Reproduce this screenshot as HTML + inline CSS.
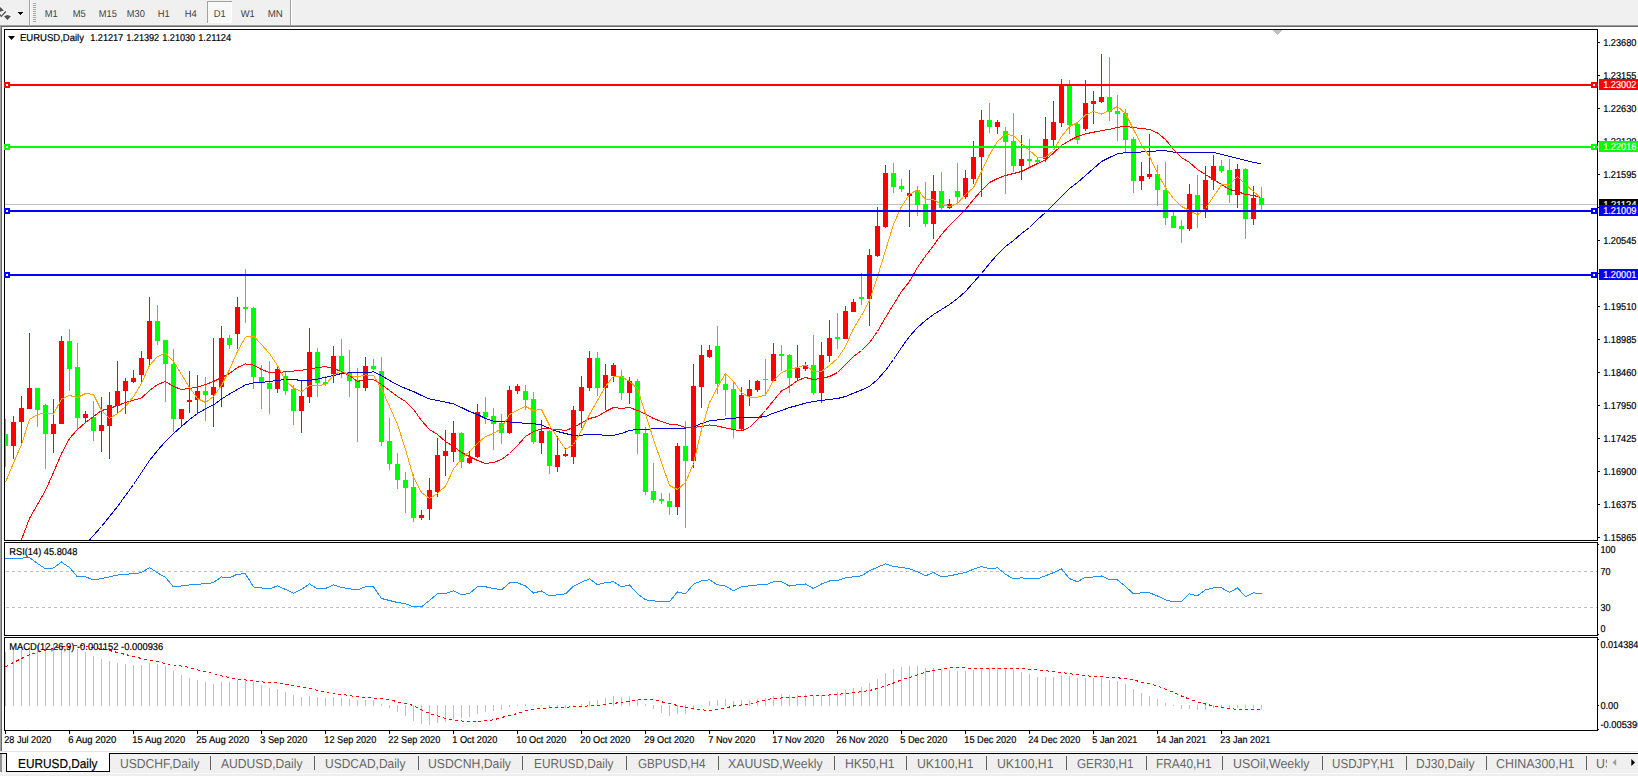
<!DOCTYPE html>
<html><head><meta charset="utf-8"><title>EURUSD,Daily</title>
<style>html,body{margin:0;padding:0;background:#f0f0f0;overflow:hidden}svg{display:block}text{font-family:"Liberation Sans",sans-serif;white-space:pre;text-rendering:geometricPrecision}</style></head><body>
<svg width="1638" height="776" viewBox="0 0 1638 776" shape-rendering="crispEdges">
<rect x="0" y="0" width="1638" height="776" fill="#f0f0f0"/>
<g id="toolbar">
<path d="M-3 9.5 L0.5 7.2 L3.8 10.4 L0 11.8 Z M4 16.3 L7.4 15.1 L10.9 16.3 L7.4 20 Z" fill="#505050" shape-rendering="auto"/>
<path d="M-0.3 14.3 L1.3 16.4 L5.8 11.5" stroke="#505050" stroke-width="1.2" fill="none" shape-rendering="auto"/>
<rect x="18" y="12" width="5" height="1" fill="#000"/>
<rect x="19" y="13" width="3" height="1" fill="#000"/>
<rect x="20" y="14" width="1" height="1" fill="#000"/>
<rect x="29" y="0" width="1" height="25" fill="#a0a0a0"/>
<rect x="30" y="0" width="1" height="25" fill="#ffffff"/>
<rect x="33" y="3" width="3" height="1" fill="#a8a8a8"/>
<rect x="33" y="5" width="3" height="1" fill="#a8a8a8"/>
<rect x="33" y="7" width="3" height="1" fill="#a8a8a8"/>
<rect x="33" y="9" width="3" height="1" fill="#a8a8a8"/>
<rect x="33" y="11" width="3" height="1" fill="#a8a8a8"/>
<rect x="33" y="13" width="3" height="1" fill="#a8a8a8"/>
<rect x="33" y="15" width="3" height="1" fill="#a8a8a8"/>
<rect x="33" y="17" width="3" height="1" fill="#a8a8a8"/>
<rect x="33" y="19" width="3" height="1" fill="#a8a8a8"/>
<rect x="33" y="21" width="3" height="1" fill="#a8a8a8"/>
<rect x="207" y="1" width="25" height="22" fill="#f8f8f8"/>
<rect x="207" y="1" width="25" height="1" fill="#a0a0a0"/>
<rect x="207" y="1" width="1" height="22" fill="#a0a0a0"/>
<rect x="231" y="2" width="1" height="21" fill="#ffffff"/>
<rect x="208" y="22" width="24" height="1" fill="#ffffff"/>
<rect x="290" y="0" width="1" height="25" fill="#a0a0a0"/>
<rect x="291" y="0" width="1" height="25" fill="#ffffff"/>
<text x="44.8" y="17" font-size="10.0" fill="#404040" stroke="#404040" stroke-width="0" textLength="13" lengthAdjust="spacingAndGlyphs">M1</text>
<text x="72.8" y="17" font-size="10.0" fill="#404040" stroke="#404040" stroke-width="0" textLength="13" lengthAdjust="spacingAndGlyphs">M5</text>
<text x="98.8" y="17" font-size="10.0" fill="#404040" stroke="#404040" stroke-width="0" textLength="18" lengthAdjust="spacingAndGlyphs">M15</text>
<text x="126.8" y="17" font-size="10.0" fill="#404040" stroke="#404040" stroke-width="0" textLength="18" lengthAdjust="spacingAndGlyphs">M30</text>
<text x="157.8" y="17" font-size="10.0" fill="#404040" stroke="#404040" stroke-width="0" textLength="12" lengthAdjust="spacingAndGlyphs">H1</text>
<text x="184.8" y="17" font-size="10.0" fill="#404040" stroke="#404040" stroke-width="0" textLength="12" lengthAdjust="spacingAndGlyphs">H4</text>
<text x="213.8" y="17" font-size="10.0" fill="#404040" stroke="#404040" stroke-width="0" textLength="12" lengthAdjust="spacingAndGlyphs">D1</text>
<text x="240.8" y="17" font-size="10.0" fill="#404040" stroke="#404040" stroke-width="0" textLength="14" lengthAdjust="spacingAndGlyphs">W1</text>
<text x="267.8" y="17" font-size="10.0" fill="#404040" stroke="#404040" stroke-width="0" textLength="15" lengthAdjust="spacingAndGlyphs">MN</text>
</g>
<rect x="0" y="25" width="1638" height="1" fill="#a0a0a0"/>
<rect x="0" y="26" width="1638" height="1" fill="#696969"/>
<rect x="0" y="27" width="1638" height="724" fill="#ffffff"/>
<rect x="0" y="25" width="1" height="727" fill="#a0a0a0"/>
<rect x="1" y="26" width="1" height="726" fill="#696969"/>
<rect x="0" y="751" width="1638" height="1" fill="#e3e3e3"/>
<rect x="4" y="29" width="1594" height="1" fill="#000"/>
<rect x="4" y="29" width="1" height="702" fill="#000"/>
<rect x="1597" y="29" width="1" height="702" fill="#000"/>
<rect x="4" y="540" width="1594" height="1" fill="#000"/>
<rect x="4" y="542" width="1594" height="1" fill="#000"/>
<rect x="4" y="635" width="1594" height="1" fill="#000"/>
<rect x="4" y="637" width="1594" height="1" fill="#000"/>
<rect x="4" y="730" width="1594" height="1" fill="#000"/>
<rect x="4" y="541" width="1594" height="1" fill="#fff"/>
<rect x="4" y="636" width="1594" height="1" fill="#fff"/>
<defs><clipPath id="cm"><rect x="5" y="30" width="1592" height="510"/></clipPath><clipPath id="cr"><rect x="5" y="543" width="1592" height="92"/></clipPath><clipPath id="cd"><rect x="5" y="638" width="1592" height="92"/></clipPath></defs>
<g clip-path="url(#cm)">
<rect x="5" y="204" width="1592" height="1" fill="#c0c0c0"/>
<rect x="5" y="419" width="1" height="48" fill="#00ff00"/>
<rect x="3" y="434" width="5" height="12" fill="#00ff00"/>
<rect x="13" y="416" width="1" height="43" fill="#ff0000"/>
<rect x="11" y="422" width="5" height="24" fill="#ff0000"/>
<rect x="21" y="396" width="1" height="50" fill="#ff0000"/>
<rect x="19" y="408" width="5" height="14" fill="#ff0000"/>
<rect x="29" y="333" width="1" height="76" fill="#ff0000"/>
<rect x="27" y="388" width="5" height="21" fill="#ff0000"/>
<rect x="37" y="388" width="1" height="39" fill="#00ff00"/>
<rect x="35" y="388" width="5" height="22" fill="#00ff00"/>
<rect x="45" y="404" width="1" height="65" fill="#00ff00"/>
<rect x="43" y="405" width="5" height="29" fill="#00ff00"/>
<rect x="53" y="399" width="1" height="54" fill="#ff0000"/>
<rect x="51" y="424" width="5" height="10" fill="#ff0000"/>
<rect x="61" y="336" width="1" height="88" fill="#ff0000"/>
<rect x="59" y="341" width="5" height="83" fill="#ff0000"/>
<rect x="69" y="329" width="1" height="62" fill="#00ff00"/>
<rect x="67" y="341" width="5" height="28" fill="#00ff00"/>
<rect x="77" y="343" width="1" height="87" fill="#00ff00"/>
<rect x="75" y="367" width="5" height="51" fill="#00ff00"/>
<rect x="85" y="411" width="1" height="12" fill="#ff0000"/>
<rect x="83" y="414" width="5" height="4" fill="#ff0000"/>
<rect x="93" y="401" width="1" height="40" fill="#00ff00"/>
<rect x="91" y="417" width="5" height="14" fill="#00ff00"/>
<rect x="101" y="397" width="1" height="55" fill="#ff0000"/>
<rect x="99" y="425" width="5" height="6" fill="#ff0000"/>
<rect x="109" y="392" width="1" height="67" fill="#ff0000"/>
<rect x="107" y="405" width="5" height="21" fill="#ff0000"/>
<rect x="117" y="361" width="1" height="52" fill="#ff0000"/>
<rect x="115" y="391" width="5" height="15" fill="#ff0000"/>
<rect x="125" y="378" width="1" height="36" fill="#ff0000"/>
<rect x="123" y="381" width="5" height="10" fill="#ff0000"/>
<rect x="133" y="370" width="1" height="13" fill="#ff0000"/>
<rect x="131" y="378" width="5" height="4" fill="#ff0000"/>
<rect x="141" y="351" width="1" height="31" fill="#ff0000"/>
<rect x="139" y="358" width="5" height="17" fill="#ff0000"/>
<rect x="149" y="297" width="1" height="69" fill="#ff0000"/>
<rect x="147" y="321" width="5" height="38" fill="#ff0000"/>
<rect x="157" y="305" width="1" height="40" fill="#00ff00"/>
<rect x="155" y="321" width="5" height="20" fill="#00ff00"/>
<rect x="165" y="340" width="1" height="62" fill="#00ff00"/>
<rect x="163" y="340" width="5" height="24" fill="#00ff00"/>
<rect x="173" y="349" width="1" height="83" fill="#00ff00"/>
<rect x="171" y="364" width="5" height="55" fill="#00ff00"/>
<rect x="181" y="409" width="1" height="18" fill="#ff0000"/>
<rect x="179" y="409" width="5" height="10" fill="#ff0000"/>
<rect x="189" y="371" width="1" height="42" fill="#ff0000"/>
<rect x="187" y="400" width="5" height="2" fill="#ff0000"/>
<rect x="197" y="375" width="1" height="38" fill="#ff0000"/>
<rect x="195" y="391" width="5" height="9" fill="#ff0000"/>
<rect x="205" y="377" width="1" height="44" fill="#00ff00"/>
<rect x="203" y="391" width="5" height="4" fill="#00ff00"/>
<rect x="213" y="338" width="1" height="89" fill="#ff0000"/>
<rect x="211" y="387" width="5" height="8" fill="#ff0000"/>
<rect x="221" y="326" width="1" height="81" fill="#ff0000"/>
<rect x="219" y="338" width="5" height="49" fill="#ff0000"/>
<rect x="229" y="335" width="1" height="14" fill="#00ff00"/>
<rect x="227" y="338" width="5" height="7" fill="#00ff00"/>
<rect x="237" y="297" width="1" height="52" fill="#ff0000"/>
<rect x="235" y="307" width="5" height="27" fill="#ff0000"/>
<rect x="245" y="269" width="1" height="54" fill="#00ff00"/>
<rect x="243" y="307" width="5" height="2" fill="#00ff00"/>
<rect x="253" y="307" width="1" height="82" fill="#00ff00"/>
<rect x="251" y="308" width="5" height="69" fill="#00ff00"/>
<rect x="261" y="365" width="1" height="44" fill="#00ff00"/>
<rect x="259" y="377" width="5" height="6" fill="#00ff00"/>
<rect x="269" y="361" width="1" height="53" fill="#00ff00"/>
<rect x="267" y="383" width="5" height="6" fill="#00ff00"/>
<rect x="277" y="366" width="1" height="27" fill="#ff0000"/>
<rect x="275" y="369" width="5" height="20" fill="#ff0000"/>
<rect x="285" y="372" width="1" height="23" fill="#00ff00"/>
<rect x="283" y="376" width="5" height="15" fill="#00ff00"/>
<rect x="293" y="385" width="1" height="40" fill="#00ff00"/>
<rect x="291" y="389" width="5" height="22" fill="#00ff00"/>
<rect x="301" y="381" width="1" height="52" fill="#ff0000"/>
<rect x="299" y="396" width="5" height="15" fill="#ff0000"/>
<rect x="309" y="328" width="1" height="75" fill="#ff0000"/>
<rect x="307" y="352" width="5" height="45" fill="#ff0000"/>
<rect x="317" y="348" width="1" height="49" fill="#00ff00"/>
<rect x="315" y="352" width="5" height="31" fill="#00ff00"/>
<rect x="325" y="376" width="1" height="10" fill="#00ff00"/>
<rect x="323" y="382" width="5" height="2" fill="#00ff00"/>
<rect x="333" y="346" width="1" height="37" fill="#ff0000"/>
<rect x="331" y="356" width="5" height="18" fill="#ff0000"/>
<rect x="341" y="339" width="1" height="39" fill="#00ff00"/>
<rect x="339" y="356" width="5" height="15" fill="#00ff00"/>
<rect x="349" y="350" width="1" height="47" fill="#00ff00"/>
<rect x="347" y="372" width="5" height="9" fill="#00ff00"/>
<rect x="357" y="368" width="1" height="74" fill="#00ff00"/>
<rect x="355" y="380" width="5" height="8" fill="#00ff00"/>
<rect x="365" y="357" width="1" height="34" fill="#ff0000"/>
<rect x="363" y="366" width="5" height="22" fill="#ff0000"/>
<rect x="373" y="359" width="1" height="11" fill="#00ff00"/>
<rect x="371" y="366" width="5" height="3" fill="#00ff00"/>
<rect x="381" y="357" width="1" height="89" fill="#00ff00"/>
<rect x="379" y="371" width="5" height="71" fill="#00ff00"/>
<rect x="389" y="418" width="1" height="52" fill="#00ff00"/>
<rect x="387" y="441" width="5" height="23" fill="#00ff00"/>
<rect x="397" y="453" width="1" height="36" fill="#00ff00"/>
<rect x="395" y="464" width="5" height="16" fill="#00ff00"/>
<rect x="405" y="472" width="1" height="41" fill="#00ff00"/>
<rect x="403" y="480" width="5" height="8" fill="#00ff00"/>
<rect x="413" y="474" width="1" height="48" fill="#00ff00"/>
<rect x="411" y="487" width="5" height="31" fill="#00ff00"/>
<rect x="421" y="510" width="1" height="10" fill="#ff0000"/>
<rect x="419" y="515" width="5" height="3" fill="#ff0000"/>
<rect x="429" y="478" width="1" height="42" fill="#ff0000"/>
<rect x="427" y="490" width="5" height="19" fill="#ff0000"/>
<rect x="437" y="438" width="1" height="59" fill="#ff0000"/>
<rect x="435" y="455" width="5" height="37" fill="#ff0000"/>
<rect x="445" y="430" width="1" height="46" fill="#ff0000"/>
<rect x="443" y="451" width="5" height="5" fill="#ff0000"/>
<rect x="453" y="421" width="1" height="41" fill="#ff0000"/>
<rect x="451" y="433" width="5" height="19" fill="#ff0000"/>
<rect x="461" y="432" width="1" height="36" fill="#00ff00"/>
<rect x="459" y="433" width="5" height="29" fill="#00ff00"/>
<rect x="469" y="451" width="1" height="13" fill="#ff0000"/>
<rect x="467" y="458" width="5" height="5" fill="#ff0000"/>
<rect x="477" y="404" width="1" height="54" fill="#ff0000"/>
<rect x="475" y="412" width="5" height="45" fill="#ff0000"/>
<rect x="485" y="397" width="1" height="27" fill="#00ff00"/>
<rect x="483" y="412" width="5" height="5" fill="#00ff00"/>
<rect x="493" y="408" width="1" height="42" fill="#00ff00"/>
<rect x="491" y="416" width="5" height="8" fill="#00ff00"/>
<rect x="501" y="414" width="1" height="30" fill="#00ff00"/>
<rect x="499" y="423" width="5" height="10" fill="#00ff00"/>
<rect x="509" y="386" width="1" height="48" fill="#ff0000"/>
<rect x="507" y="390" width="5" height="43" fill="#ff0000"/>
<rect x="517" y="384" width="1" height="10" fill="#ff0000"/>
<rect x="515" y="386" width="5" height="5" fill="#ff0000"/>
<rect x="525" y="385" width="1" height="25" fill="#00ff00"/>
<rect x="523" y="391" width="5" height="9" fill="#00ff00"/>
<rect x="533" y="392" width="1" height="52" fill="#00ff00"/>
<rect x="531" y="399" width="5" height="43" fill="#00ff00"/>
<rect x="541" y="420" width="1" height="34" fill="#ff0000"/>
<rect x="539" y="431" width="5" height="12" fill="#ff0000"/>
<rect x="549" y="430" width="1" height="44" fill="#00ff00"/>
<rect x="547" y="431" width="5" height="35" fill="#00ff00"/>
<rect x="557" y="436" width="1" height="36" fill="#ff0000"/>
<rect x="555" y="455" width="5" height="12" fill="#ff0000"/>
<rect x="565" y="448" width="1" height="9" fill="#ff0000"/>
<rect x="563" y="454" width="5" height="2" fill="#ff0000"/>
<rect x="573" y="406" width="1" height="58" fill="#ff0000"/>
<rect x="571" y="410" width="5" height="47" fill="#ff0000"/>
<rect x="581" y="376" width="1" height="52" fill="#ff0000"/>
<rect x="579" y="387" width="5" height="24" fill="#ff0000"/>
<rect x="589" y="351" width="1" height="40" fill="#ff0000"/>
<rect x="587" y="358" width="5" height="30" fill="#ff0000"/>
<rect x="597" y="352" width="1" height="44" fill="#00ff00"/>
<rect x="595" y="358" width="5" height="30" fill="#00ff00"/>
<rect x="605" y="364" width="1" height="46" fill="#ff0000"/>
<rect x="603" y="375" width="5" height="13" fill="#ff0000"/>
<rect x="613" y="363" width="1" height="19" fill="#ff0000"/>
<rect x="611" y="365" width="5" height="11" fill="#ff0000"/>
<rect x="621" y="370" width="1" height="30" fill="#00ff00"/>
<rect x="619" y="376" width="5" height="17" fill="#00ff00"/>
<rect x="629" y="377" width="1" height="27" fill="#ff0000"/>
<rect x="627" y="381" width="5" height="12" fill="#ff0000"/>
<rect x="637" y="379" width="1" height="75" fill="#00ff00"/>
<rect x="635" y="381" width="5" height="53" fill="#00ff00"/>
<rect x="645" y="427" width="1" height="68" fill="#00ff00"/>
<rect x="643" y="433" width="5" height="59" fill="#00ff00"/>
<rect x="653" y="463" width="1" height="40" fill="#00ff00"/>
<rect x="651" y="491" width="5" height="9" fill="#00ff00"/>
<rect x="661" y="493" width="1" height="11" fill="#00ff00"/>
<rect x="659" y="499" width="5" height="2" fill="#00ff00"/>
<rect x="669" y="493" width="1" height="22" fill="#00ff00"/>
<rect x="667" y="501" width="5" height="6" fill="#00ff00"/>
<rect x="677" y="443" width="1" height="72" fill="#ff0000"/>
<rect x="675" y="446" width="5" height="61" fill="#ff0000"/>
<rect x="685" y="421" width="1" height="107" fill="#00ff00"/>
<rect x="683" y="446" width="5" height="15" fill="#00ff00"/>
<rect x="693" y="364" width="1" height="104" fill="#ff0000"/>
<rect x="691" y="386" width="5" height="75" fill="#ff0000"/>
<rect x="701" y="345" width="1" height="63" fill="#ff0000"/>
<rect x="699" y="355" width="5" height="32" fill="#ff0000"/>
<rect x="709" y="345" width="1" height="13" fill="#ff0000"/>
<rect x="707" y="350" width="5" height="7" fill="#ff0000"/>
<rect x="717" y="326" width="1" height="68" fill="#00ff00"/>
<rect x="715" y="346" width="5" height="38" fill="#00ff00"/>
<rect x="725" y="374" width="1" height="42" fill="#00ff00"/>
<rect x="723" y="384" width="5" height="6" fill="#00ff00"/>
<rect x="733" y="381" width="1" height="57" fill="#00ff00"/>
<rect x="731" y="389" width="5" height="40" fill="#00ff00"/>
<rect x="741" y="387" width="1" height="44" fill="#ff0000"/>
<rect x="739" y="395" width="5" height="34" fill="#ff0000"/>
<rect x="749" y="380" width="1" height="26" fill="#ff0000"/>
<rect x="747" y="389" width="5" height="7" fill="#ff0000"/>
<rect x="757" y="380" width="1" height="12" fill="#ff0000"/>
<rect x="755" y="381" width="5" height="9" fill="#ff0000"/>
<rect x="765" y="359" width="1" height="35" fill="#00ff00"/>
<rect x="763" y="379" width="5" height="1" fill="#00ff00"/>
<rect x="773" y="343" width="1" height="38" fill="#ff0000"/>
<rect x="771" y="354" width="5" height="27" fill="#ff0000"/>
<rect x="781" y="345" width="1" height="26" fill="#00ff00"/>
<rect x="779" y="354" width="5" height="2" fill="#00ff00"/>
<rect x="789" y="354" width="1" height="39" fill="#00ff00"/>
<rect x="787" y="355" width="5" height="23" fill="#00ff00"/>
<rect x="797" y="345" width="1" height="35" fill="#ff0000"/>
<rect x="795" y="368" width="5" height="10" fill="#ff0000"/>
<rect x="805" y="362" width="1" height="9" fill="#ff0000"/>
<rect x="803" y="365" width="5" height="4" fill="#ff0000"/>
<rect x="813" y="335" width="1" height="60" fill="#00ff00"/>
<rect x="811" y="365" width="5" height="28" fill="#00ff00"/>
<rect x="821" y="342" width="1" height="61" fill="#ff0000"/>
<rect x="819" y="355" width="5" height="38" fill="#ff0000"/>
<rect x="829" y="320" width="1" height="42" fill="#ff0000"/>
<rect x="827" y="338" width="5" height="18" fill="#ff0000"/>
<rect x="837" y="313" width="1" height="36" fill="#00ff00"/>
<rect x="835" y="337" width="5" height="2" fill="#00ff00"/>
<rect x="845" y="306" width="1" height="33" fill="#ff0000"/>
<rect x="843" y="311" width="5" height="28" fill="#ff0000"/>
<rect x="853" y="299" width="1" height="13" fill="#ff0000"/>
<rect x="851" y="302" width="5" height="10" fill="#ff0000"/>
<rect x="861" y="273" width="1" height="32" fill="#00ff00"/>
<rect x="859" y="297" width="5" height="2" fill="#00ff00"/>
<rect x="869" y="249" width="1" height="77" fill="#ff0000"/>
<rect x="867" y="255" width="5" height="44" fill="#ff0000"/>
<rect x="877" y="207" width="1" height="50" fill="#ff0000"/>
<rect x="875" y="226" width="5" height="30" fill="#ff0000"/>
<rect x="885" y="165" width="1" height="63" fill="#ff0000"/>
<rect x="883" y="173" width="5" height="54" fill="#ff0000"/>
<rect x="893" y="163" width="1" height="30" fill="#00ff00"/>
<rect x="891" y="173" width="5" height="14" fill="#00ff00"/>
<rect x="901" y="179" width="1" height="13" fill="#00ff00"/>
<rect x="899" y="186" width="5" height="3" fill="#00ff00"/>
<rect x="909" y="170" width="1" height="57" fill="#ff0000"/>
<rect x="907" y="193" width="5" height="3" fill="#ff0000"/>
<rect x="917" y="186" width="1" height="30" fill="#00ff00"/>
<rect x="915" y="190" width="5" height="15" fill="#00ff00"/>
<rect x="925" y="182" width="1" height="45" fill="#00ff00"/>
<rect x="923" y="204" width="5" height="20" fill="#00ff00"/>
<rect x="933" y="175" width="1" height="64" fill="#ff0000"/>
<rect x="931" y="191" width="5" height="33" fill="#ff0000"/>
<rect x="941" y="172" width="1" height="38" fill="#00ff00"/>
<rect x="939" y="191" width="5" height="17" fill="#00ff00"/>
<rect x="949" y="199" width="1" height="10" fill="#ff0000"/>
<rect x="947" y="204" width="5" height="4" fill="#ff0000"/>
<rect x="957" y="163" width="1" height="40" fill="#00ff00"/>
<rect x="955" y="191" width="5" height="6" fill="#00ff00"/>
<rect x="965" y="170" width="1" height="29" fill="#ff0000"/>
<rect x="963" y="178" width="5" height="19" fill="#ff0000"/>
<rect x="973" y="141" width="1" height="43" fill="#ff0000"/>
<rect x="971" y="157" width="5" height="22" fill="#ff0000"/>
<rect x="981" y="110" width="1" height="87" fill="#ff0000"/>
<rect x="979" y="120" width="5" height="37" fill="#ff0000"/>
<rect x="989" y="103" width="1" height="30" fill="#00ff00"/>
<rect x="987" y="120" width="5" height="7" fill="#00ff00"/>
<rect x="997" y="120" width="1" height="14" fill="#ff0000"/>
<rect x="995" y="122" width="5" height="5" fill="#ff0000"/>
<rect x="1005" y="127" width="1" height="67" fill="#00ff00"/>
<rect x="1003" y="131" width="5" height="11" fill="#00ff00"/>
<rect x="1013" y="113" width="1" height="59" fill="#00ff00"/>
<rect x="1011" y="141" width="5" height="25" fill="#00ff00"/>
<rect x="1021" y="135" width="1" height="45" fill="#ff0000"/>
<rect x="1019" y="159" width="5" height="7" fill="#ff0000"/>
<rect x="1029" y="139" width="1" height="28" fill="#00ff00"/>
<rect x="1027" y="159" width="5" height="2" fill="#00ff00"/>
<rect x="1037" y="157" width="1" height="7" fill="#00ff00"/>
<rect x="1035" y="160" width="5" height="2" fill="#00ff00"/>
<rect x="1045" y="117" width="1" height="45" fill="#ff0000"/>
<rect x="1043" y="139" width="5" height="20" fill="#ff0000"/>
<rect x="1053" y="101" width="1" height="45" fill="#ff0000"/>
<rect x="1051" y="122" width="5" height="18" fill="#ff0000"/>
<rect x="1061" y="79" width="1" height="48" fill="#ff0000"/>
<rect x="1059" y="85" width="5" height="38" fill="#ff0000"/>
<rect x="1069" y="80" width="1" height="54" fill="#00ff00"/>
<rect x="1067" y="86" width="5" height="39" fill="#00ff00"/>
<rect x="1077" y="123" width="1" height="21" fill="#00ff00"/>
<rect x="1075" y="124" width="5" height="16" fill="#00ff00"/>
<rect x="1085" y="80" width="1" height="51" fill="#ff0000"/>
<rect x="1083" y="103" width="5" height="26" fill="#ff0000"/>
<rect x="1093" y="91" width="1" height="33" fill="#ff0000"/>
<rect x="1091" y="101" width="5" height="3" fill="#ff0000"/>
<rect x="1101" y="54" width="1" height="49" fill="#ff0000"/>
<rect x="1099" y="97" width="5" height="5" fill="#ff0000"/>
<rect x="1109" y="57" width="1" height="64" fill="#00ff00"/>
<rect x="1107" y="97" width="5" height="15" fill="#00ff00"/>
<rect x="1117" y="95" width="1" height="46" fill="#00ff00"/>
<rect x="1115" y="111" width="5" height="3" fill="#00ff00"/>
<rect x="1125" y="109" width="1" height="44" fill="#00ff00"/>
<rect x="1123" y="113" width="5" height="27" fill="#00ff00"/>
<rect x="1133" y="137" width="1" height="56" fill="#00ff00"/>
<rect x="1131" y="139" width="5" height="42" fill="#00ff00"/>
<rect x="1141" y="162" width="1" height="28" fill="#ff0000"/>
<rect x="1139" y="176" width="5" height="5" fill="#ff0000"/>
<rect x="1149" y="134" width="1" height="45" fill="#ff0000"/>
<rect x="1147" y="174" width="5" height="3" fill="#ff0000"/>
<rect x="1157" y="165" width="1" height="41" fill="#00ff00"/>
<rect x="1155" y="174" width="5" height="16" fill="#00ff00"/>
<rect x="1165" y="162" width="1" height="63" fill="#00ff00"/>
<rect x="1163" y="190" width="5" height="28" fill="#00ff00"/>
<rect x="1173" y="212" width="1" height="16" fill="#00ff00"/>
<rect x="1171" y="216" width="5" height="12" fill="#00ff00"/>
<rect x="1181" y="220" width="1" height="23" fill="#00ff00"/>
<rect x="1179" y="226" width="5" height="3" fill="#00ff00"/>
<rect x="1189" y="184" width="1" height="47" fill="#ff0000"/>
<rect x="1187" y="194" width="5" height="35" fill="#ff0000"/>
<rect x="1197" y="175" width="1" height="53" fill="#00ff00"/>
<rect x="1195" y="195" width="5" height="16" fill="#00ff00"/>
<rect x="1205" y="166" width="1" height="52" fill="#ff0000"/>
<rect x="1203" y="180" width="5" height="31" fill="#ff0000"/>
<rect x="1213" y="155" width="1" height="35" fill="#ff0000"/>
<rect x="1211" y="166" width="5" height="14" fill="#ff0000"/>
<rect x="1221" y="160" width="1" height="13" fill="#00ff00"/>
<rect x="1219" y="166" width="5" height="5" fill="#00ff00"/>
<rect x="1229" y="159" width="1" height="44" fill="#00ff00"/>
<rect x="1227" y="170" width="5" height="25" fill="#00ff00"/>
<rect x="1237" y="164" width="1" height="44" fill="#ff0000"/>
<rect x="1235" y="169" width="5" height="26" fill="#ff0000"/>
<rect x="1245" y="168" width="1" height="71" fill="#00ff00"/>
<rect x="1243" y="169" width="5" height="50" fill="#00ff00"/>
<rect x="1253" y="186" width="1" height="39" fill="#ff0000"/>
<rect x="1251" y="198" width="5" height="21" fill="#ff0000"/>
<rect x="1261" y="187" width="1" height="23" fill="#00ff00"/>
<rect x="1259" y="198" width="5" height="7" fill="#00ff00"/>
<polyline points="77.5,556.5 85.5,544.5 93.5,535.5 101.5,526.5 109.5,516.5 117.5,506.5 125.5,495.5 133.5,484.5 141.5,472.5 149.5,460.5 157.5,450.5 165.5,441.5 173.5,433.5 181.5,426.5 189.5,419.5 197.5,413.5 205.5,408.9 213.5,404.9 221.5,399.0 229.5,394.0 237.5,389.5 245.5,384.9 253.5,382.9 261.5,382.5 269.5,381.5 277.5,380.5 285.5,379.5 293.5,379.1 301.5,380.9 309.5,380.5 317.5,379.1 325.5,377.3 333.5,375.5 341.5,373.5 349.5,372.9 357.5,372.9 365.5,372.5 373.5,371.9 381.5,375.5 389.5,380.5 397.5,384.9 405.5,388.5 413.5,391.5 421.5,395.5 429.5,398.9 437.5,400.5 445.5,402.1 453.5,403.9 461.5,407.5 469.5,411.5 477.5,414.5 485.5,418.5 493.5,421.1 501.5,421.9 509.5,421.9 517.5,422.9 525.5,423.1 533.5,423.7 541.5,424.9 549.5,428.5 557.5,431.5 565.5,433.5 573.5,435.5 581.5,435.1 589.5,434.5 597.5,434.5 605.5,435.5 613.5,435.3 621.5,433.5 629.5,430.5 637.5,429.5 645.5,429.3 653.5,428.9 661.5,428.7 669.5,428.7 677.5,428.5 685.5,428.1 693.5,427.1 701.5,423.5 709.5,420.9 717.5,419.9 725.5,418.9 733.5,418.3 741.5,417.5 749.5,417.5 757.5,417.5 765.5,416.5 773.5,413.1 781.5,410.5 789.5,407.5 797.5,405.5 805.5,403.1 813.5,401.5 821.5,400.5 829.5,399.5 837.5,398.5 845.5,396.5 853.5,393.2 861.5,390.0 869.5,386.3 877.5,379.5 885.5,370.5 893.5,359.5 901.5,347.5 909.5,336.5 917.5,327.5 925.5,320.5 933.5,314.5 941.5,309.5 949.5,304.5 957.5,298.5 965.5,291.5 973.5,282.5 981.5,273.5 989.5,263.5 997.5,254.5 1005.5,246.5 1013.5,240.5 1021.5,233.5 1029.5,227.5 1037.5,219.5 1045.5,212.5 1053.5,204.5 1061.5,196.5 1069.5,188.5 1077.5,182.5 1085.5,175.5 1093.5,168.5 1101.5,161.5 1109.5,157.5 1117.5,153.8 1125.5,152.7 1133.5,152.5 1141.5,152.0 1149.5,151.6 1157.5,150.9 1165.5,150.8 1173.5,152.1 1181.5,152.5 1189.5,152.5 1197.5,152.5 1205.5,152.5 1213.5,152.5 1221.5,154.3 1229.5,156.3 1237.5,158.3 1245.5,160.3 1253.5,162.3 1261.5,164.1" fill="none" stroke="#0000cd" stroke-width="1"/>
<polyline points="5.5,585.5 13.5,560.5 21.5,539.5 29.5,518.5 37.5,504.5 45.5,490.5 53.5,472.5 61.5,453.5 69.5,438.5 77.5,429.5 85.5,422.5 93.5,416.5 101.5,410.5 109.5,408.5 117.5,405.5 125.5,402.5 133.5,400.1 141.5,398.0 149.5,390.5 157.5,384.5 165.5,381.5 173.5,386.5 181.5,389.5 189.5,388.5 197.5,387.1 205.5,384.5 213.5,381.5 221.5,377.5 229.5,373.5 237.5,367.5 245.5,363.9 253.5,365.1 261.5,369.5 269.5,372.5 277.5,373.1 285.5,371.5 293.5,371.1 301.5,370.3 309.5,369.1 317.5,367.5 325.5,366.7 333.5,368.5 341.5,371.5 349.5,375.5 357.5,381.5 365.5,379.5 373.5,379.5 381.5,384.5 389.5,390.5 397.5,396.5 405.5,401.5 413.5,409.5 421.5,420.5 429.5,429.5 437.5,434.5 445.5,441.5 453.5,446.5 461.5,452.5 469.5,456.5 477.5,460.5 485.5,463.5 493.5,462.5 501.5,459.5 509.5,453.5 517.5,445.5 525.5,436.5 533.5,431.5 541.5,428.9 549.5,428.9 557.5,429.5 565.5,430.5 573.5,427.5 581.5,422.9 589.5,418.5 597.5,416.5 605.5,411.5 613.5,407.5 621.5,408.5 629.5,407.5 637.5,410.5 645.5,414.0 653.5,418.5 661.5,421.5 669.5,424.1 677.5,424.9 685.5,427.5 693.5,427.5 701.5,426.5 709.5,424.9 717.5,426.1 725.5,427.9 733.5,429.5 741.5,430.9 749.5,427.5 757.5,419.5 765.5,410.5 773.5,400.5 781.5,391.0 789.5,386.5 797.5,380.5 805.5,377.5 813.5,379.5 821.5,378.5 829.5,376.5 837.5,372.5 845.5,364.5 853.5,356.5 861.5,350.5 869.5,342.5 877.5,331.5 885.5,317.5 893.5,304.5 901.5,291.5 909.5,281.5 917.5,267.5 925.5,256.0 933.5,245.5 941.5,234.5 949.5,225.5 957.5,217.5 965.5,209.5 973.5,199.5 981.5,190.5 989.5,182.5 997.5,178.5 1005.5,175.5 1013.5,173.5 1021.5,171.5 1029.5,167.5 1037.5,163.5 1045.5,160.0 1053.5,153.0 1061.5,145.5 1069.5,140.5 1077.5,136.5 1085.5,133.8 1093.5,132.2 1101.5,130.7 1109.5,129.3 1117.5,127.5 1125.5,126.1 1133.5,127.8 1141.5,128.3 1149.5,129.5 1157.5,133.0 1165.5,139.5 1173.5,149.5 1181.5,157.5 1189.5,162.5 1197.5,169.5 1205.5,174.5 1213.5,179.5 1221.5,184.5 1229.5,189.5 1237.5,191.5 1245.5,194.5 1253.5,195.5 1261.5,197.5" fill="none" stroke="#ff0000" stroke-width="1"/>
<polyline points="5.5,482.1 13.5,463.0 21.5,444.5 29.5,419.5 37.5,414.5 45.5,412.9 53.5,414.1 61.5,399.0 69.5,395.5 77.5,397.5 85.5,393.5 93.5,394.5 101.5,410.5 109.5,418.5 117.5,413.5 125.5,406.5 133.5,396.5 141.5,383.5 149.5,365.5 157.5,356.5 165.5,353.1 173.5,361.5 181.5,374.5 189.5,387.5 197.5,398.5 205.5,402.5 213.5,396.5 221.5,385.5 229.5,369.5 237.5,351.5 245.5,337.1 253.5,335.9 261.5,344.5 269.5,353.5 277.5,365.5 285.5,380.5 293.5,387.9 301.5,391.9 309.5,385.5 317.5,385.5 325.5,384.7 333.5,375.5 341.5,370.5 349.5,375.5 357.5,376.9 365.5,374.9 373.5,375.5 381.5,388.5 389.5,406.5 397.5,424.5 405.5,449.5 413.5,477.5 421.5,492.5 429.5,498.5 437.5,493.5 445.5,486.0 453.5,469.0 461.5,458.5 469.5,451.5 477.5,443.5 485.5,436.5 493.5,433.5 501.5,428.5 509.5,414.5 517.5,410.1 525.5,406.5 533.5,410.5 541.5,409.5 549.5,425.5 557.5,437.5 565.5,449.5 573.5,444.5 581.5,430.5 589.5,414.5 597.5,400.5 605.5,386.5 613.5,376.1 621.5,376.5 629.5,381.5 637.5,388.5 645.5,414.0 653.5,439.5 661.5,462.5 669.5,485.5 677.5,489.5 685.5,482.5 693.5,463.5 701.5,429.5 709.5,402.5 717.5,387.5 725.5,373.5 733.5,381.5 741.5,392.5 749.5,397.5 757.5,397.1 765.5,395.1 773.5,380.5 781.5,372.5 789.5,369.5 797.5,367.5 805.5,364.9 813.5,371.5 821.5,371.5 829.5,365.5 837.5,358.5 845.5,346.5 853.5,328.5 861.5,315.5 869.5,300.5 877.5,276.5 885.5,250.5 893.5,224.5 901.5,206.5 909.5,194.5 917.5,189.5 925.5,199.5 933.5,199.5 941.5,204.5 949.5,206.5 957.5,203.5 965.5,194.5 973.5,187.5 981.5,171.5 989.5,154.5 997.5,141.5 1005.5,134.5 1013.5,135.5 1021.5,143.5 1029.5,150.5 1037.5,157.5 1045.5,157.5 1053.5,150.5 1061.5,136.5 1069.5,126.5 1077.5,122.5 1085.5,115.0 1093.5,111.5 1101.5,114.0 1109.5,110.7 1117.5,106.5 1125.5,113.5 1133.5,129.5 1141.5,145.0 1149.5,156.5 1157.5,173.0 1165.5,188.0 1173.5,198.5 1181.5,206.5 1189.5,210.5 1197.5,214.9 1205.5,208.5 1213.5,196.5 1221.5,184.9 1229.5,184.5 1237.5,176.5 1245.5,184.5 1253.5,191.5 1261.5,198.5" fill="none" stroke="#ffa500" stroke-width="1"/>
<rect x="1273" y="30" width="9" height="1" fill="#c0c0c0"/>
<rect x="1274" y="31" width="7" height="1" fill="#c0c0c0"/>
<rect x="1275" y="32" width="5" height="1" fill="#c0c0c0"/>
<rect x="1276" y="33" width="3" height="1" fill="#c0c0c0"/>
<rect x="1277" y="34" width="1" height="1" fill="#c0c0c0"/>
</g>
<rect x="4" y="84" width="1594" height="2" fill="#ff0000"/>
<rect x="4" y="82" width="6" height="6" fill="#ff0000"/>
<rect x="6" y="84" width="2" height="2" fill="#fff"/>
<rect x="1591" y="82" width="6" height="6" fill="#ff0000"/>
<rect x="1593" y="84" width="2" height="2" fill="#fff"/>
<rect x="4" y="146" width="1594" height="2" fill="#00ff00"/>
<rect x="4" y="144" width="6" height="6" fill="#00ff00"/>
<rect x="6" y="146" width="2" height="2" fill="#fff"/>
<rect x="1591" y="144" width="6" height="6" fill="#00ff00"/>
<rect x="1593" y="146" width="2" height="2" fill="#fff"/>
<rect x="4" y="210" width="1594" height="2" fill="#0000ff"/>
<rect x="4" y="208" width="6" height="6" fill="#0000ff"/>
<rect x="6" y="210" width="2" height="2" fill="#fff"/>
<rect x="1591" y="208" width="6" height="6" fill="#0000ff"/>
<rect x="1593" y="210" width="2" height="2" fill="#fff"/>
<rect x="4" y="274" width="1594" height="2" fill="#0000ff"/>
<rect x="4" y="272" width="6" height="6" fill="#0000ff"/>
<rect x="6" y="274" width="2" height="2" fill="#fff"/>
<rect x="1591" y="272" width="6" height="6" fill="#0000ff"/>
<rect x="1593" y="274" width="2" height="2" fill="#fff"/>
<path d="M8 36 h7 l-3.5 4 z" fill="#000" shape-rendering="auto"/>
<text x="20" y="41" font-size="10.0" fill="#000" stroke="#000" stroke-width="0.2" textLength="64" lengthAdjust="spacingAndGlyphs">EURUSD,Daily</text>
<text x="90.2" y="41" font-size="10.0" fill="#000" stroke="#000" stroke-width="0.2" textLength="33" lengthAdjust="spacingAndGlyphs">1.21217</text>
<text x="126.2" y="41" font-size="10.0" fill="#000" stroke="#000" stroke-width="0.2" textLength="33" lengthAdjust="spacingAndGlyphs">1.21392</text>
<text x="162.2" y="41" font-size="10.0" fill="#000" stroke="#000" stroke-width="0.2" textLength="33" lengthAdjust="spacingAndGlyphs">1.21030</text>
<text x="198.2" y="41" font-size="10.0" fill="#000" stroke="#000" stroke-width="0.2" textLength="33" lengthAdjust="spacingAndGlyphs">1.21124</text>
<rect x="1598" y="42" width="2" height="1" fill="#000"/>
<text x="1603.2" y="46" font-size="10.0" fill="#000" stroke="#000" stroke-width="0.2" textLength="33.3" lengthAdjust="spacingAndGlyphs">1.23680</text>
<rect x="1598" y="75" width="2" height="1" fill="#000"/>
<text x="1603.2" y="79" font-size="10.0" fill="#000" stroke="#000" stroke-width="0.2" textLength="33.3" lengthAdjust="spacingAndGlyphs">1.23155</text>
<rect x="1598" y="108" width="2" height="1" fill="#000"/>
<text x="1603.2" y="112" font-size="10.0" fill="#000" stroke="#000" stroke-width="0.2" textLength="33.3" lengthAdjust="spacingAndGlyphs">1.22630</text>
<rect x="1598" y="141" width="2" height="1" fill="#000"/>
<text x="1603.2" y="145" font-size="10.0" fill="#000" stroke="#000" stroke-width="0.2" textLength="33.3" lengthAdjust="spacingAndGlyphs">1.22120</text>
<rect x="1598" y="174" width="2" height="1" fill="#000"/>
<text x="1603.2" y="178" font-size="10.0" fill="#000" stroke="#000" stroke-width="0.2" textLength="33.3" lengthAdjust="spacingAndGlyphs">1.21595</text>
<rect x="1598" y="207" width="2" height="1" fill="#000"/>
<text x="1603.2" y="211" font-size="10.0" fill="#000" stroke="#000" stroke-width="0.2" textLength="33.3" lengthAdjust="spacingAndGlyphs">1.21070</text>
<rect x="1598" y="240" width="2" height="1" fill="#000"/>
<text x="1603.2" y="244" font-size="10.0" fill="#000" stroke="#000" stroke-width="0.2" textLength="33.3" lengthAdjust="spacingAndGlyphs">1.20545</text>
<rect x="1598" y="273" width="2" height="1" fill="#000"/>
<text x="1603.2" y="277" font-size="10.0" fill="#000" stroke="#000" stroke-width="0.2" textLength="33.3" lengthAdjust="spacingAndGlyphs">1.20020</text>
<rect x="1598" y="306" width="2" height="1" fill="#000"/>
<text x="1603.2" y="310" font-size="10.0" fill="#000" stroke="#000" stroke-width="0.2" textLength="33.3" lengthAdjust="spacingAndGlyphs">1.19510</text>
<rect x="1598" y="339" width="2" height="1" fill="#000"/>
<text x="1603.2" y="343" font-size="10.0" fill="#000" stroke="#000" stroke-width="0.2" textLength="33.3" lengthAdjust="spacingAndGlyphs">1.18985</text>
<rect x="1598" y="372" width="2" height="1" fill="#000"/>
<text x="1603.2" y="376" font-size="10.0" fill="#000" stroke="#000" stroke-width="0.2" textLength="33.3" lengthAdjust="spacingAndGlyphs">1.18460</text>
<rect x="1598" y="405" width="2" height="1" fill="#000"/>
<text x="1603.2" y="409" font-size="10.0" fill="#000" stroke="#000" stroke-width="0.2" textLength="33.3" lengthAdjust="spacingAndGlyphs">1.17950</text>
<rect x="1598" y="438" width="2" height="1" fill="#000"/>
<text x="1603.2" y="442" font-size="10.0" fill="#000" stroke="#000" stroke-width="0.2" textLength="33.3" lengthAdjust="spacingAndGlyphs">1.17425</text>
<rect x="1598" y="471" width="2" height="1" fill="#000"/>
<text x="1603.2" y="475" font-size="10.0" fill="#000" stroke="#000" stroke-width="0.2" textLength="33.3" lengthAdjust="spacingAndGlyphs">1.16900</text>
<rect x="1598" y="504" width="2" height="1" fill="#000"/>
<text x="1603.2" y="508" font-size="10.0" fill="#000" stroke="#000" stroke-width="0.2" textLength="33.3" lengthAdjust="spacingAndGlyphs">1.16375</text>
<rect x="1598" y="537" width="2" height="1" fill="#000"/>
<text x="1603.2" y="541" font-size="10.0" fill="#000" stroke="#000" stroke-width="0.2" textLength="33.3" lengthAdjust="spacingAndGlyphs">1.15865</text>
<rect x="1599" y="199" width="39" height="11" fill="#000"/>
<text x="1603.2" y="208" font-size="10.0" fill="#fff" stroke="#fff" stroke-width="0.2" textLength="33.3" lengthAdjust="spacingAndGlyphs">1.21124</text>
<rect x="1599" y="79" width="39" height="11" fill="#ff0000"/>
<text x="1603.2" y="88" font-size="10.0" fill="#fff" stroke="#fff" stroke-width="0.2" textLength="33.3" lengthAdjust="spacingAndGlyphs">1.23002</text>
<rect x="1599" y="141" width="39" height="11" fill="#00ff00"/>
<text x="1603.2" y="150" font-size="10.0" fill="#fff" stroke="#fff" stroke-width="0.2" textLength="33.3" lengthAdjust="spacingAndGlyphs">1.22016</text>
<rect x="1599" y="205" width="39" height="11" fill="#0000ff"/>
<text x="1603.2" y="214" font-size="10.0" fill="#fff" stroke="#fff" stroke-width="0.2" textLength="33.3" lengthAdjust="spacingAndGlyphs">1.21009</text>
<rect x="1599" y="269" width="39" height="11" fill="#0000ff"/>
<text x="1603.2" y="278" font-size="10.0" fill="#fff" stroke="#fff" stroke-width="0.2" textLength="33.3" lengthAdjust="spacingAndGlyphs">1.20001</text>
<g clip-path="url(#cr)">
<line x1="6" y1="571.5" x2="1597" y2="571.5" stroke="#c0c0c0" stroke-width="1" stroke-dasharray="3 3"/>
<line x1="6" y1="607.5" x2="1597" y2="607.5" stroke="#c0c0c0" stroke-width="1" stroke-dasharray="3 3"/>
<polyline points="5.5,558.9 13.5,558.1 21.5,558.1 29.5,557.5 37.5,563.5 45.5,568.9 53.5,567.9 61.5,562.1 69.5,567.5 77.5,576.9 85.5,576.9 93.5,579.9 101.5,578.5 109.5,576.9 117.5,575.1 125.5,574.1 133.5,573.9 141.5,572.5 149.5,567.5 157.5,572.9 165.5,577.5 173.5,586.9 181.5,585.9 189.5,584.9 197.5,584.1 205.5,583.9 213.5,582.5 221.5,576.9 229.5,577.9 237.5,574.1 245.5,573.9 253.5,586.9 261.5,587.9 269.5,588.9 277.5,585.9 285.5,589.5 293.5,593.1 301.5,589.5 309.5,583.9 317.5,588.9 325.5,588.5 333.5,584.8 341.5,587.5 349.5,588.8 357.5,589.8 365.5,586.8 373.5,586.8 381.5,598.5 389.5,600.5 397.5,602.5 405.5,603.8 413.5,606.8 421.5,606.8 429.5,600.5 437.5,593.8 445.5,593.5 453.5,590.8 461.5,594.8 469.5,593.5 477.5,586.8 485.5,586.8 493.5,588.5 501.5,589.8 509.5,583.0 517.5,582.8 525.5,586.0 533.5,593.0 541.5,591.0 549.5,596.0 557.5,594.8 565.5,593.8 573.5,586.2 581.5,582.2 589.5,578.8 597.5,584.8 605.5,582.5 613.5,581.8 621.5,586.8 629.5,585.0 637.5,593.8 645.5,599.8 653.5,600.8 661.5,601.8 669.5,601.8 677.5,591.8 685.5,593.8 693.5,584.2 701.5,580.8 709.5,579.8 717.5,584.8 725.5,586.1 733.5,590.8 741.5,586.8 749.5,585.8 757.5,585.0 765.5,584.8 773.5,581.8 781.5,581.8 789.5,586.0 797.5,584.8 805.5,584.0 813.5,588.5 821.5,584.0 829.5,581.0 837.5,580.5 845.5,577.8 853.5,576.8 861.5,575.8 869.5,570.8 877.5,567.2 885.5,563.8 893.5,566.5 901.5,567.5 909.5,568.8 917.5,571.8 925.5,575.8 933.5,572.5 941.5,576.8 949.5,575.8 957.5,574.2 965.5,572.5 973.5,569.2 981.5,566.5 989.5,568.8 997.5,567.8 1005.5,574.2 1013.5,578.8 1021.5,577.8 1029.5,578.8 1037.5,578.8 1045.5,575.8 1053.5,572.6 1061.5,569.0 1069.5,578.6 1077.5,581.8 1085.5,577.2 1093.5,577.0 1101.5,576.0 1109.5,579.8 1117.5,580.0 1125.5,586.4 1133.5,593.8 1141.5,592.8 1149.5,592.8 1157.5,596.0 1165.5,599.8 1173.5,601.8 1181.5,601.8 1189.5,593.8 1197.5,595.8 1205.5,589.8 1213.5,587.8 1221.5,587.8 1229.5,592.5 1237.5,587.8 1245.5,596.8 1253.5,592.8 1261.5,594.0" fill="none" stroke="#1e90ff" stroke-width="1"/>
</g>
<text x="9.3" y="555" font-size="10.0" fill="#000" stroke="#000" stroke-width="0.2" textLength="68" lengthAdjust="spacingAndGlyphs">RSI(14) 45.8048</text>
<rect x="1598" y="544" width="1" height="1" fill="#000"/>
<rect x="1598" y="634" width="1" height="1" fill="#000"/>
<text x="1600.4" y="553" font-size="10.0" fill="#000" stroke="#000" stroke-width="0.2" textLength="15" lengthAdjust="spacingAndGlyphs">100</text>
<text x="1600.4" y="575" font-size="10.0" fill="#000" stroke="#000" stroke-width="0.2" textLength="10" lengthAdjust="spacingAndGlyphs">70</text>
<text x="1600.4" y="611" font-size="10.0" fill="#000" stroke="#000" stroke-width="0.2" textLength="10" lengthAdjust="spacingAndGlyphs">30</text>
<text x="1600.4" y="632" font-size="10.0" fill="#000" stroke="#000" stroke-width="0.2" textLength="5" lengthAdjust="spacingAndGlyphs">0</text>
<g clip-path="url(#cd)">
<rect x="5" y="652" width="1" height="54" fill="#c0c0c0"/>
<rect x="13" y="649" width="1" height="57" fill="#c0c0c0"/>
<rect x="21" y="647" width="1" height="59" fill="#c0c0c0"/>
<rect x="29" y="646" width="1" height="60" fill="#c0c0c0"/>
<rect x="37" y="645" width="1" height="61" fill="#c0c0c0"/>
<rect x="45" y="645" width="1" height="61" fill="#c0c0c0"/>
<rect x="53" y="645" width="1" height="61" fill="#c0c0c0"/>
<rect x="61" y="646" width="1" height="60" fill="#c0c0c0"/>
<rect x="69" y="647" width="1" height="59" fill="#c0c0c0"/>
<rect x="77" y="649" width="1" height="57" fill="#c0c0c0"/>
<rect x="85" y="652" width="1" height="54" fill="#c0c0c0"/>
<rect x="93" y="656" width="1" height="50" fill="#c0c0c0"/>
<rect x="101" y="659" width="1" height="47" fill="#c0c0c0"/>
<rect x="109" y="661" width="1" height="45" fill="#c0c0c0"/>
<rect x="117" y="663" width="1" height="43" fill="#c0c0c0"/>
<rect x="125" y="664" width="1" height="42" fill="#c0c0c0"/>
<rect x="133" y="665" width="1" height="41" fill="#c0c0c0"/>
<rect x="141" y="665" width="1" height="41" fill="#c0c0c0"/>
<rect x="149" y="663" width="1" height="43" fill="#c0c0c0"/>
<rect x="157" y="664" width="1" height="42" fill="#c0c0c0"/>
<rect x="165" y="666" width="1" height="40" fill="#c0c0c0"/>
<rect x="173" y="671" width="1" height="35" fill="#c0c0c0"/>
<rect x="181" y="675" width="1" height="31" fill="#c0c0c0"/>
<rect x="189" y="678" width="1" height="28" fill="#c0c0c0"/>
<rect x="197" y="680" width="1" height="26" fill="#c0c0c0"/>
<rect x="205" y="682" width="1" height="24" fill="#c0c0c0"/>
<rect x="213" y="684" width="1" height="22" fill="#c0c0c0"/>
<rect x="221" y="682" width="1" height="24" fill="#c0c0c0"/>
<rect x="229" y="682" width="1" height="24" fill="#c0c0c0"/>
<rect x="237" y="680" width="1" height="26" fill="#c0c0c0"/>
<rect x="245" y="680" width="1" height="26" fill="#c0c0c0"/>
<rect x="253" y="682" width="1" height="24" fill="#c0c0c0"/>
<rect x="261" y="685" width="1" height="21" fill="#c0c0c0"/>
<rect x="269" y="688" width="1" height="18" fill="#c0c0c0"/>
<rect x="277" y="689" width="1" height="17" fill="#c0c0c0"/>
<rect x="285" y="692" width="1" height="14" fill="#c0c0c0"/>
<rect x="293" y="695" width="1" height="11" fill="#c0c0c0"/>
<rect x="301" y="697" width="1" height="9" fill="#c0c0c0"/>
<rect x="309" y="696" width="1" height="10" fill="#c0c0c0"/>
<rect x="317" y="697" width="1" height="9" fill="#c0c0c0"/>
<rect x="325" y="698" width="1" height="8" fill="#c0c0c0"/>
<rect x="333" y="697" width="1" height="9" fill="#c0c0c0"/>
<rect x="341" y="698" width="1" height="8" fill="#c0c0c0"/>
<rect x="349" y="699" width="1" height="7" fill="#c0c0c0"/>
<rect x="357" y="700" width="1" height="6" fill="#c0c0c0"/>
<rect x="365" y="700" width="1" height="6" fill="#c0c0c0"/>
<rect x="373" y="700" width="1" height="6" fill="#c0c0c0"/>
<rect x="381" y="704" width="1" height="2" fill="#c0c0c0"/>
<rect x="389" y="705" width="1" height="3" fill="#c0c0c0"/>
<rect x="397" y="705" width="1" height="7" fill="#c0c0c0"/>
<rect x="405" y="705" width="1" height="11" fill="#c0c0c0"/>
<rect x="413" y="705" width="1" height="16" fill="#c0c0c0"/>
<rect x="421" y="705" width="1" height="19" fill="#c0c0c0"/>
<rect x="429" y="705" width="1" height="20" fill="#c0c0c0"/>
<rect x="437" y="705" width="1" height="18" fill="#c0c0c0"/>
<rect x="445" y="705" width="1" height="17" fill="#c0c0c0"/>
<rect x="453" y="705" width="1" height="14" fill="#c0c0c0"/>
<rect x="461" y="705" width="1" height="13" fill="#c0c0c0"/>
<rect x="469" y="705" width="1" height="12" fill="#c0c0c0"/>
<rect x="477" y="705" width="1" height="9" fill="#c0c0c0"/>
<rect x="485" y="705" width="1" height="7" fill="#c0c0c0"/>
<rect x="493" y="705" width="1" height="6" fill="#c0c0c0"/>
<rect x="501" y="705" width="1" height="5" fill="#c0c0c0"/>
<rect x="509" y="705" width="1" height="2" fill="#c0c0c0"/>
<rect x="517" y="705" width="1" height="1" fill="#c0c0c0"/>
<rect x="525" y="704" width="1" height="2" fill="#c0c0c0"/>
<rect x="533" y="705" width="1" height="1" fill="#c0c0c0"/>
<rect x="541" y="705" width="1" height="1" fill="#c0c0c0"/>
<rect x="549" y="705" width="1" height="2" fill="#c0c0c0"/>
<rect x="557" y="705" width="1" height="3" fill="#c0c0c0"/>
<rect x="565" y="705" width="1" height="3" fill="#c0c0c0"/>
<rect x="573" y="705" width="1" height="1" fill="#c0c0c0"/>
<rect x="581" y="704" width="1" height="2" fill="#c0c0c0"/>
<rect x="589" y="701" width="1" height="5" fill="#c0c0c0"/>
<rect x="597" y="700" width="1" height="6" fill="#c0c0c0"/>
<rect x="605" y="698" width="1" height="8" fill="#c0c0c0"/>
<rect x="613" y="696" width="1" height="10" fill="#c0c0c0"/>
<rect x="621" y="697" width="1" height="9" fill="#c0c0c0"/>
<rect x="629" y="696" width="1" height="10" fill="#c0c0c0"/>
<rect x="637" y="700" width="1" height="6" fill="#c0c0c0"/>
<rect x="645" y="704" width="1" height="2" fill="#c0c0c0"/>
<rect x="653" y="705" width="1" height="4" fill="#c0c0c0"/>
<rect x="661" y="705" width="1" height="8" fill="#c0c0c0"/>
<rect x="669" y="705" width="1" height="11" fill="#c0c0c0"/>
<rect x="677" y="705" width="1" height="9" fill="#c0c0c0"/>
<rect x="685" y="705" width="1" height="9" fill="#c0c0c0"/>
<rect x="693" y="705" width="1" height="5" fill="#c0c0c0"/>
<rect x="701" y="705" width="1" height="1" fill="#c0c0c0"/>
<rect x="709" y="701" width="1" height="5" fill="#c0c0c0"/>
<rect x="717" y="700" width="1" height="6" fill="#c0c0c0"/>
<rect x="725" y="699" width="1" height="7" fill="#c0c0c0"/>
<rect x="733" y="701" width="1" height="5" fill="#c0c0c0"/>
<rect x="741" y="700" width="1" height="6" fill="#c0c0c0"/>
<rect x="749" y="700" width="1" height="6" fill="#c0c0c0"/>
<rect x="757" y="699" width="1" height="7" fill="#c0c0c0"/>
<rect x="765" y="698" width="1" height="8" fill="#c0c0c0"/>
<rect x="773" y="696" width="1" height="10" fill="#c0c0c0"/>
<rect x="781" y="694" width="1" height="12" fill="#c0c0c0"/>
<rect x="789" y="695" width="1" height="11" fill="#c0c0c0"/>
<rect x="797" y="695" width="1" height="11" fill="#c0c0c0"/>
<rect x="805" y="694" width="1" height="12" fill="#c0c0c0"/>
<rect x="813" y="696" width="1" height="10" fill="#c0c0c0"/>
<rect x="821" y="695" width="1" height="11" fill="#c0c0c0"/>
<rect x="829" y="694" width="1" height="12" fill="#c0c0c0"/>
<rect x="837" y="692" width="1" height="14" fill="#c0c0c0"/>
<rect x="845" y="690" width="1" height="16" fill="#c0c0c0"/>
<rect x="853" y="688" width="1" height="18" fill="#c0c0c0"/>
<rect x="861" y="687" width="1" height="19" fill="#c0c0c0"/>
<rect x="869" y="683" width="1" height="23" fill="#c0c0c0"/>
<rect x="877" y="679" width="1" height="27" fill="#c0c0c0"/>
<rect x="885" y="673" width="1" height="33" fill="#c0c0c0"/>
<rect x="893" y="669" width="1" height="37" fill="#c0c0c0"/>
<rect x="901" y="667" width="1" height="39" fill="#c0c0c0"/>
<rect x="909" y="666" width="1" height="40" fill="#c0c0c0"/>
<rect x="917" y="666" width="1" height="40" fill="#c0c0c0"/>
<rect x="925" y="668" width="1" height="38" fill="#c0c0c0"/>
<rect x="933" y="668" width="1" height="38" fill="#c0c0c0"/>
<rect x="941" y="669" width="1" height="37" fill="#c0c0c0"/>
<rect x="949" y="670" width="1" height="36" fill="#c0c0c0"/>
<rect x="957" y="671" width="1" height="35" fill="#c0c0c0"/>
<rect x="965" y="671" width="1" height="35" fill="#c0c0c0"/>
<rect x="973" y="670" width="1" height="36" fill="#c0c0c0"/>
<rect x="981" y="668" width="1" height="38" fill="#c0c0c0"/>
<rect x="989" y="668" width="1" height="38" fill="#c0c0c0"/>
<rect x="997" y="667" width="1" height="39" fill="#c0c0c0"/>
<rect x="1005" y="668" width="1" height="38" fill="#c0c0c0"/>
<rect x="1013" y="670" width="1" height="36" fill="#c0c0c0"/>
<rect x="1021" y="672" width="1" height="34" fill="#c0c0c0"/>
<rect x="1029" y="674" width="1" height="32" fill="#c0c0c0"/>
<rect x="1037" y="677" width="1" height="29" fill="#c0c0c0"/>
<rect x="1045" y="677" width="1" height="29" fill="#c0c0c0"/>
<rect x="1053" y="677" width="1" height="29" fill="#c0c0c0"/>
<rect x="1061" y="675" width="1" height="31" fill="#c0c0c0"/>
<rect x="1069" y="676" width="1" height="30" fill="#c0c0c0"/>
<rect x="1077" y="678" width="1" height="28" fill="#c0c0c0"/>
<rect x="1085" y="678" width="1" height="28" fill="#c0c0c0"/>
<rect x="1093" y="678" width="1" height="28" fill="#c0c0c0"/>
<rect x="1101" y="678" width="1" height="28" fill="#c0c0c0"/>
<rect x="1109" y="680" width="1" height="26" fill="#c0c0c0"/>
<rect x="1117" y="681" width="1" height="25" fill="#c0c0c0"/>
<rect x="1125" y="684" width="1" height="22" fill="#c0c0c0"/>
<rect x="1133" y="689" width="1" height="17" fill="#c0c0c0"/>
<rect x="1141" y="693" width="1" height="13" fill="#c0c0c0"/>
<rect x="1149" y="696" width="1" height="10" fill="#c0c0c0"/>
<rect x="1157" y="699" width="1" height="7" fill="#c0c0c0"/>
<rect x="1165" y="703" width="1" height="3" fill="#c0c0c0"/>
<rect x="1173" y="705" width="1" height="1" fill="#c0c0c0"/>
<rect x="1181" y="705" width="1" height="4" fill="#c0c0c0"/>
<rect x="1189" y="705" width="1" height="4" fill="#c0c0c0"/>
<rect x="1197" y="705" width="1" height="5" fill="#c0c0c0"/>
<rect x="1205" y="705" width="1" height="5" fill="#c0c0c0"/>
<rect x="1213" y="705" width="1" height="3" fill="#c0c0c0"/>
<rect x="1221" y="705" width="1" height="3" fill="#c0c0c0"/>
<rect x="1229" y="705" width="1" height="3" fill="#c0c0c0"/>
<rect x="1237" y="705" width="1" height="3" fill="#c0c0c0"/>
<rect x="1245" y="705" width="1" height="3" fill="#c0c0c0"/>
<rect x="1253" y="705" width="1" height="3" fill="#c0c0c0"/>
<rect x="1261" y="705" width="1" height="4" fill="#c0c0c0"/>
<polyline points="5.5,666.9 13.5,662.5 21.5,658.5 29.5,654.9 37.5,652.1 45.5,650.1 53.5,648.5 61.5,647.1 69.5,646.1 77.5,645.5 85.5,645.9 93.5,647.5 101.5,648.5 109.5,650.5 117.5,652.5 125.5,654.5 133.5,656.5 141.5,658.5 149.5,660.5 157.5,661.7 165.5,663.5 173.5,664.9 181.5,666.1 189.5,667.5 197.5,669.9 205.5,671.9 213.5,673.5 221.5,675.9 229.5,677.5 237.5,678.9 245.5,679.9 253.5,680.9 261.5,681.9 269.5,682.5 277.5,682.9 285.5,684.0 293.5,685.5 301.5,686.9 309.5,688.1 317.5,690.3 325.5,692.2 333.5,693.9 341.5,694.5 349.5,695.5 357.5,696.9 365.5,697.7 373.5,697.9 381.5,698.9 389.5,699.5 397.5,701.9 405.5,703.5 413.5,705.5 421.5,709.9 429.5,713.5 437.5,715.9 445.5,718.5 453.5,719.9 461.5,720.9 469.5,721.9 477.5,721.9 485.5,720.5 493.5,719.9 501.5,717.5 509.5,715.5 517.5,713.5 525.5,710.9 533.5,709.5 541.5,708.5 549.5,707.9 557.5,707.1 565.5,707.1 573.5,706.9 581.5,706.7 589.5,705.7 597.5,705.6 605.5,704.4 613.5,703.5 621.5,702.2 629.5,701.0 637.5,699.8 645.5,699.5 653.5,699.5 661.5,701.8 669.5,703.5 677.5,705.5 685.5,707.2 693.5,708.8 701.5,709.8 709.5,710.5 717.5,709.8 725.5,708.0 733.5,706.0 741.5,705.0 749.5,703.8 757.5,701.8 765.5,699.8 773.5,698.5 781.5,698.0 789.5,697.5 797.5,696.8 805.5,696.2 813.5,695.8 821.5,695.5 829.5,695.0 837.5,694.5 845.5,693.5 853.5,692.5 861.5,691.8 869.5,690.5 877.5,688.5 885.5,686.0 893.5,683.0 901.5,679.8 909.5,677.5 917.5,674.8 925.5,672.2 933.5,670.5 941.5,669.0 949.5,668.0 957.5,667.8 965.5,668.0 973.5,668.5 981.5,668.5 989.5,668.5 997.5,668.5 1005.5,668.5 1013.5,668.5 1021.5,668.5 1029.5,669.8 1037.5,670.0 1045.5,670.8 1053.5,671.6 1061.5,672.5 1069.5,673.6 1077.5,674.9 1085.5,675.6 1093.5,676.5 1101.5,676.8 1109.5,677.4 1117.5,677.8 1125.5,678.6 1133.5,679.8 1141.5,682.2 1149.5,683.5 1157.5,686.0 1165.5,689.2 1173.5,692.2 1181.5,696.0 1189.5,699.2 1197.5,701.8 1205.5,704.0 1213.5,706.0 1221.5,707.5 1229.5,708.5 1237.5,709.5 1245.5,709.8 1253.5,709.8 1261.5,709.8" fill="none" stroke="#ff0000" stroke-width="1" stroke-dasharray="3 3"/>
</g>
<text x="9.3" y="650" font-size="10.0" fill="#000" stroke="#000" stroke-width="0.2" textLength="154" lengthAdjust="spacingAndGlyphs">MACD(12,26,9) -0.001152 -0.000936</text>
<rect x="1598" y="639" width="1" height="1" fill="#000"/>
<rect x="1598" y="705" width="1" height="1" fill="#000"/>
<rect x="1598" y="729" width="1" height="1" fill="#000"/>
<text x="1600.4" y="648" font-size="10.0" fill="#000" stroke="#000" stroke-width="0.2" textLength="38" lengthAdjust="spacingAndGlyphs">0.014384</text>
<text x="1600.4" y="709" font-size="10.0" fill="#000" stroke="#000" stroke-width="0.2" textLength="18" lengthAdjust="spacingAndGlyphs">0.00</text>
<text x="1600.4" y="728" font-size="10.0" fill="#000" stroke="#000" stroke-width="0.2" textLength="42" lengthAdjust="spacingAndGlyphs">-0.005396</text>
<rect x="5" y="731" width="1" height="3" fill="#000"/>
<text x="4.3" y="743" font-size="10.0" fill="#000" stroke="#000" stroke-width="0.2" textLength="47" lengthAdjust="spacingAndGlyphs">28 Jul 2020</text>
<rect x="69" y="731" width="1" height="3" fill="#000"/>
<text x="68.3" y="743" font-size="10.0" fill="#000" stroke="#000" stroke-width="0.2" textLength="48" lengthAdjust="spacingAndGlyphs">6 Aug 2020</text>
<rect x="133" y="731" width="1" height="3" fill="#000"/>
<text x="132.3" y="743" font-size="10.0" fill="#000" stroke="#000" stroke-width="0.2" textLength="53" lengthAdjust="spacingAndGlyphs">15 Aug 2020</text>
<rect x="197" y="731" width="1" height="3" fill="#000"/>
<text x="196.3" y="743" font-size="10.0" fill="#000" stroke="#000" stroke-width="0.2" textLength="53" lengthAdjust="spacingAndGlyphs">25 Aug 2020</text>
<rect x="261" y="731" width="1" height="3" fill="#000"/>
<text x="260.3" y="743" font-size="10.0" fill="#000" stroke="#000" stroke-width="0.2" textLength="47" lengthAdjust="spacingAndGlyphs">3 Sep 2020</text>
<rect x="325" y="731" width="1" height="3" fill="#000"/>
<text x="324.3" y="743" font-size="10.0" fill="#000" stroke="#000" stroke-width="0.2" textLength="52" lengthAdjust="spacingAndGlyphs">12 Sep 2020</text>
<rect x="389" y="731" width="1" height="3" fill="#000"/>
<text x="388.3" y="743" font-size="10.0" fill="#000" stroke="#000" stroke-width="0.2" textLength="52" lengthAdjust="spacingAndGlyphs">22 Sep 2020</text>
<rect x="453" y="731" width="1" height="3" fill="#000"/>
<text x="452.3" y="743" font-size="10.0" fill="#000" stroke="#000" stroke-width="0.2" textLength="45" lengthAdjust="spacingAndGlyphs">1 Oct 2020</text>
<rect x="517" y="731" width="1" height="3" fill="#000"/>
<text x="516.3" y="743" font-size="10.0" fill="#000" stroke="#000" stroke-width="0.2" textLength="50" lengthAdjust="spacingAndGlyphs">10 Oct 2020</text>
<rect x="581" y="731" width="1" height="3" fill="#000"/>
<text x="580.3" y="743" font-size="10.0" fill="#000" stroke="#000" stroke-width="0.2" textLength="50" lengthAdjust="spacingAndGlyphs">20 Oct 2020</text>
<rect x="645" y="731" width="1" height="3" fill="#000"/>
<text x="644.3" y="743" font-size="10.0" fill="#000" stroke="#000" stroke-width="0.2" textLength="50" lengthAdjust="spacingAndGlyphs">29 Oct 2020</text>
<rect x="709" y="731" width="1" height="3" fill="#000"/>
<text x="708.3" y="743" font-size="10.0" fill="#000" stroke="#000" stroke-width="0.2" textLength="47" lengthAdjust="spacingAndGlyphs">7 Nov 2020</text>
<rect x="773" y="731" width="1" height="3" fill="#000"/>
<text x="772.3" y="743" font-size="10.0" fill="#000" stroke="#000" stroke-width="0.2" textLength="52" lengthAdjust="spacingAndGlyphs">17 Nov 2020</text>
<rect x="837" y="731" width="1" height="3" fill="#000"/>
<text x="836.3" y="743" font-size="10.0" fill="#000" stroke="#000" stroke-width="0.2" textLength="52" lengthAdjust="spacingAndGlyphs">26 Nov 2020</text>
<rect x="901" y="731" width="1" height="3" fill="#000"/>
<text x="900.3" y="743" font-size="10.0" fill="#000" stroke="#000" stroke-width="0.2" textLength="47" lengthAdjust="spacingAndGlyphs">5 Dec 2020</text>
<rect x="965" y="731" width="1" height="3" fill="#000"/>
<text x="964.3" y="743" font-size="10.0" fill="#000" stroke="#000" stroke-width="0.2" textLength="52" lengthAdjust="spacingAndGlyphs">15 Dec 2020</text>
<rect x="1029" y="731" width="1" height="3" fill="#000"/>
<text x="1028.3" y="743" font-size="10.0" fill="#000" stroke="#000" stroke-width="0.2" textLength="52" lengthAdjust="spacingAndGlyphs">24 Dec 2020</text>
<rect x="1093" y="731" width="1" height="3" fill="#000"/>
<text x="1092.3" y="743" font-size="10.0" fill="#000" stroke="#000" stroke-width="0.2" textLength="45" lengthAdjust="spacingAndGlyphs">5 Jan 2021</text>
<rect x="1157" y="731" width="1" height="3" fill="#000"/>
<text x="1156.3" y="743" font-size="10.0" fill="#000" stroke="#000" stroke-width="0.2" textLength="50" lengthAdjust="spacingAndGlyphs">14 Jan 2021</text>
<rect x="1221" y="731" width="1" height="3" fill="#000"/>
<text x="1220.3" y="743" font-size="10.0" fill="#000" stroke="#000" stroke-width="0.2" textLength="50" lengthAdjust="spacingAndGlyphs">23 Jan 2021</text>
<rect x="0" y="752" width="1638" height="1" fill="#ffffff"/>
<rect x="0" y="753" width="1638" height="23" fill="#f0f0f0"/>
<rect x="0" y="753" width="1638" height="1" fill="#000"/>
<rect x="0" y="773" width="1638" height="1" fill="#fafafa"/>
<rect x="0" y="774" width="1638" height="2" fill="#eeeeee"/>
<rect x="7" y="752" width="102" height="19" fill="#ffffff"/>
<rect x="6" y="753" width="1" height="19" fill="#000"/>
<rect x="109" y="753" width="1" height="19" fill="#000"/>
<rect x="6" y="771" width="104" height="1" fill="#000"/>
<rect x="0" y="754" width="2" height="18" fill="#909090"/>
<text x="18" y="768" font-size="13.0" fill="#000" stroke="#000" stroke-width="0.2" textLength="79.5" lengthAdjust="spacingAndGlyphs">EURUSD,Daily</text>
<text x="120" y="768" font-size="13.0" fill="#666666" stroke="#666666" stroke-width="0" textLength="79.5" lengthAdjust="spacingAndGlyphs">USDCHF,Daily</text>
<text x="221" y="768" font-size="13.0" fill="#666666" stroke="#666666" stroke-width="0" textLength="81.5" lengthAdjust="spacingAndGlyphs">AUDUSD,Daily</text>
<text x="325" y="768" font-size="13.0" fill="#666666" stroke="#666666" stroke-width="0" textLength="80.5" lengthAdjust="spacingAndGlyphs">USDCAD,Daily</text>
<text x="428" y="768" font-size="13.0" fill="#666666" stroke="#666666" stroke-width="0" textLength="83" lengthAdjust="spacingAndGlyphs">USDCNH,Daily</text>
<text x="534" y="768" font-size="13.0" fill="#666666" stroke="#666666" stroke-width="0" textLength="79.5" lengthAdjust="spacingAndGlyphs">EURUSD,Daily</text>
<text x="638" y="768" font-size="13.0" fill="#666666" stroke="#666666" stroke-width="0" textLength="67.5" lengthAdjust="spacingAndGlyphs">GBPUSD,H4</text>
<text x="728" y="768" font-size="13.0" fill="#666666" stroke="#666666" stroke-width="0" textLength="94.7" lengthAdjust="spacingAndGlyphs">XAUUSD,Weekly</text>
<text x="845" y="768" font-size="13.0" fill="#666666" stroke="#666666" stroke-width="0" textLength="49.5" lengthAdjust="spacingAndGlyphs">HK50,H1</text>
<text x="917" y="768" font-size="13.0" fill="#666666" stroke="#666666" stroke-width="0" textLength="56.5" lengthAdjust="spacingAndGlyphs">UK100,H1</text>
<text x="997" y="768" font-size="13.0" fill="#666666" stroke="#666666" stroke-width="0" textLength="56.5" lengthAdjust="spacingAndGlyphs">UK100,H1</text>
<text x="1077" y="768" font-size="13.0" fill="#666666" stroke="#666666" stroke-width="0" textLength="56.5" lengthAdjust="spacingAndGlyphs">GER30,H1</text>
<text x="1156" y="768" font-size="13.0" fill="#666666" stroke="#666666" stroke-width="0" textLength="55.5" lengthAdjust="spacingAndGlyphs">FRA40,H1</text>
<text x="1233" y="768" font-size="13.0" fill="#666666" stroke="#666666" stroke-width="0" textLength="76.5" lengthAdjust="spacingAndGlyphs">USOil,Weekly</text>
<text x="1332" y="768" font-size="13.0" fill="#666666" stroke="#666666" stroke-width="0" textLength="62.5" lengthAdjust="spacingAndGlyphs">USDJPY,H1</text>
<text x="1416" y="768" font-size="13.0" fill="#666666" stroke="#666666" stroke-width="0" textLength="58.5" lengthAdjust="spacingAndGlyphs">DJ30,Daily</text>
<text x="1496" y="768" font-size="13.0" fill="#666666" stroke="#666666" stroke-width="0" textLength="78.5" lengthAdjust="spacingAndGlyphs">CHINA300,H1</text>
<rect x="210" y="756" width="1" height="14" fill="#606060"/>
<rect x="314" y="756" width="1" height="14" fill="#606060"/>
<rect x="418" y="756" width="1" height="14" fill="#606060"/>
<rect x="522" y="756" width="1" height="14" fill="#606060"/>
<rect x="626" y="756" width="1" height="14" fill="#606060"/>
<rect x="718" y="756" width="1" height="14" fill="#606060"/>
<rect x="834" y="756" width="1" height="14" fill="#606060"/>
<rect x="906" y="756" width="1" height="14" fill="#606060"/>
<rect x="986" y="756" width="1" height="14" fill="#606060"/>
<rect x="1066" y="756" width="1" height="14" fill="#606060"/>
<rect x="1146" y="756" width="1" height="14" fill="#606060"/>
<rect x="1222" y="756" width="1" height="14" fill="#606060"/>
<rect x="1322" y="756" width="1" height="14" fill="#606060"/>
<rect x="1406" y="756" width="1" height="14" fill="#606060"/>
<rect x="1486" y="756" width="1" height="14" fill="#606060"/>
<rect x="1586" y="756" width="1" height="14" fill="#606060"/>
<defs><clipPath id="ct"><rect x="1590" y="754" width="17" height="20"/></clipPath></defs>
<g clip-path="url(#ct)">
<text x="1596" y="768" font-size="13.0" fill="#666666" stroke="#666666" stroke-width="0" textLength="50" lengthAdjust="spacingAndGlyphs">US30,H1</text>
</g>
<path d="M1616.2 759 v7 l-3.7 -3.5 z" fill="#a0a0a0" shape-rendering="auto"/>
<path d="M1631.3 759 v7 l3.7 -3.5 z" fill="#000" shape-rendering="auto"/>
</svg></body></html>
